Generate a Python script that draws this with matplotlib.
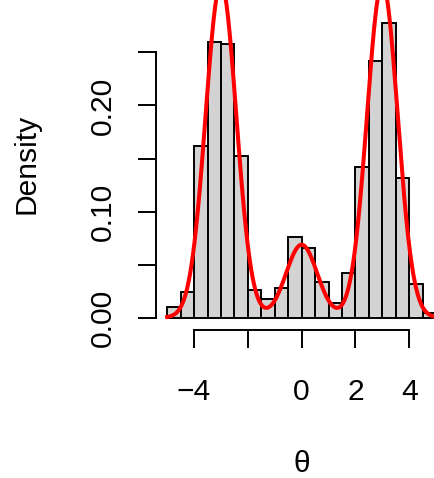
import numpy as np
import matplotlib
matplotlib.use('Agg')
import matplotlib.pyplot as plt

plt.rcParams['font.family'] = ['Liberation Sans', 'DejaVu Sans']
FS = 21.6

# Histogram of theta draws (density scale, bin width 0.5 from -5 to 5)
bin_left = np.arange(-5.0, 5.0, 0.5)
density = [0.010, 0.024, 0.162, 0.260, 0.258, 0.152, 0.026, 0.018, 0.028, 0.076,
           0.066, 0.034, 0.014, 0.042, 0.142, 0.242, 0.278, 0.132, 0.032, 0.004]

# True mixture density laid over the histogram
mix_weight = [0.45, 0.10, 0.45]
mix_mean = [-3.0, 0.0, 3.0]
mix_sd = [0.57, 0.58, 0.57]

def mixture_pdf(x):
    out = np.zeros_like(x)
    for w, m, s in zip(mix_weight, mix_mean, mix_sd):
        out += w * np.exp(-0.5 * ((x - m) / s) ** 2) / (s * np.sqrt(2 * np.pi))
    return out

W, H = 435, 478
fig = plt.figure(figsize=(W / 100, H / 100), dpi=100)
# plot region runs a little past the right/top edge of the canvas
ax = fig.add_axes([156.4 / W, (H - 330) / H, 290.5 / W, 332.3 / H])

ax.bar(bin_left, density, width=0.5, align='edge', color='#d3d3d3',
       edgecolor='black', linewidth=1.4, zorder=2)

xs = np.linspace(-5, 5, 1200)
ax.plot(xs, mixture_pdf(xs), color='red', linewidth=2.9, zorder=3)

ax.set_xlim(-5.4, 5.4)
ax.set_ylim(-0.0116, 0.3016)

for side in ['top', 'right']:
    ax.spines[side].set_visible(False)
ax.spines['left'].set_bounds(0, 0.25)
ax.spines['bottom'].set_bounds(-4, 4)
ax.spines['left'].set_linewidth(1.4)
ax.spines['bottom'].set_linewidth(1.4)

ax.tick_params(axis='both', length=12.96, width=1.4, labelsize=FS)
ax.tick_params(axis='x', pad=21.6)
ax.tick_params(axis='y', pad=15.5)
ax.set_xticks([-4, -2, 0, 2, 4], ['\u22124', '', '0', '2', '4'], fontsize=FS)
ax.set_yticks([0, 0.05, 0.10, 0.15, 0.20, 0.25],
              ['0.00', '', '0.10', '', '0.20', ''], fontsize=FS,
              rotation=90, va='center')

ax.set_xlabel('\u03b8', fontsize=FS, labelpad=32)
ax.set_ylabel('Density', fontsize=FS, labelpad=35)

fig.savefig('out.png', dpi=100)
